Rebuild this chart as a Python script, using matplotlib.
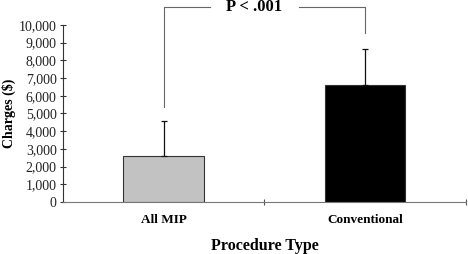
import matplotlib.pyplot as plt

categories = ["All MIP", "Conventional"]
charges = [2600, 6620]
sd_upper = [2000, 2030]
colors = ["#c2c2c2", "#000000"]
p_text = "P < .001"
yticks = list(range(0, 10001, 1000))

plt.rcParams["font.family"] = ["Liberation Serif", "DejaVu Serif"]

fig = plt.figure(figsize=(4.68, 2.54), dpi=100)
ax = fig.add_axes([0.1346, 0.2047, 0.861, 0.697])

x = range(len(categories))
ax.bar(x, charges, width=0.4, color=colors, edgecolor="#333333", linewidth=0.8, zorder=2)
ax.errorbar(x, charges, yerr=[[0, 0], sd_upper], fmt="none", ecolor="#111111",
            elinewidth=0.9, capsize=2.5, capthick=0.9, zorder=3)

ax.set_xlim(-0.5, 1.5)
ax.set_ylim(0, 10000)
ax.set_yticks(yticks)
ax.set_yticklabels([f"{v:,}" for v in yticks], fontsize=10, color="#222222")
ax.set_xticks([0.5, 1.5])
ax.set_xticklabels([])
ax.tick_params(axis="y", direction="inout", length=5, width=0.8, color="#333333", pad=2)
ax.tick_params(axis="x", direction="inout", length=5, width=0.8, color="#555555")
for i, c in enumerate(categories):
    ax.text(i, -1000, c, ha="center", va="center", fontsize=9.5, fontweight="bold")

for s in ["top", "right"]:
    ax.spines[s].set_visible(False)
ax.spines["left"].set_color("#333333")
ax.spines["left"].set_linewidth(0.8)
ax.spines["bottom"].set_color("#777777")
ax.spines["bottom"].set_linewidth(0.8)

fig.text(9 / 468, 0.555, "Charges ($)", rotation=90, ha="center", va="center",
         fontsize=10, fontweight="bold")
ax.text(0.5, -2500, "Procedure Type", ha="center", va="center", fontsize=11.5, fontweight="bold")

# significance bracket
top = 11000
lc = "#666666"
ax.plot([0, 0, 0.23], [5350, top, top], color=lc, lw=0.8, clip_on=False)
ax.plot([0.67, 1, 1], [top, top, 9550], color=lc, lw=0.8, clip_on=False)
ax.text(0.45, top, p_text, ha="center", va="center", fontsize=12, fontweight="bold")

fig.savefig("out.png", dpi=100)
